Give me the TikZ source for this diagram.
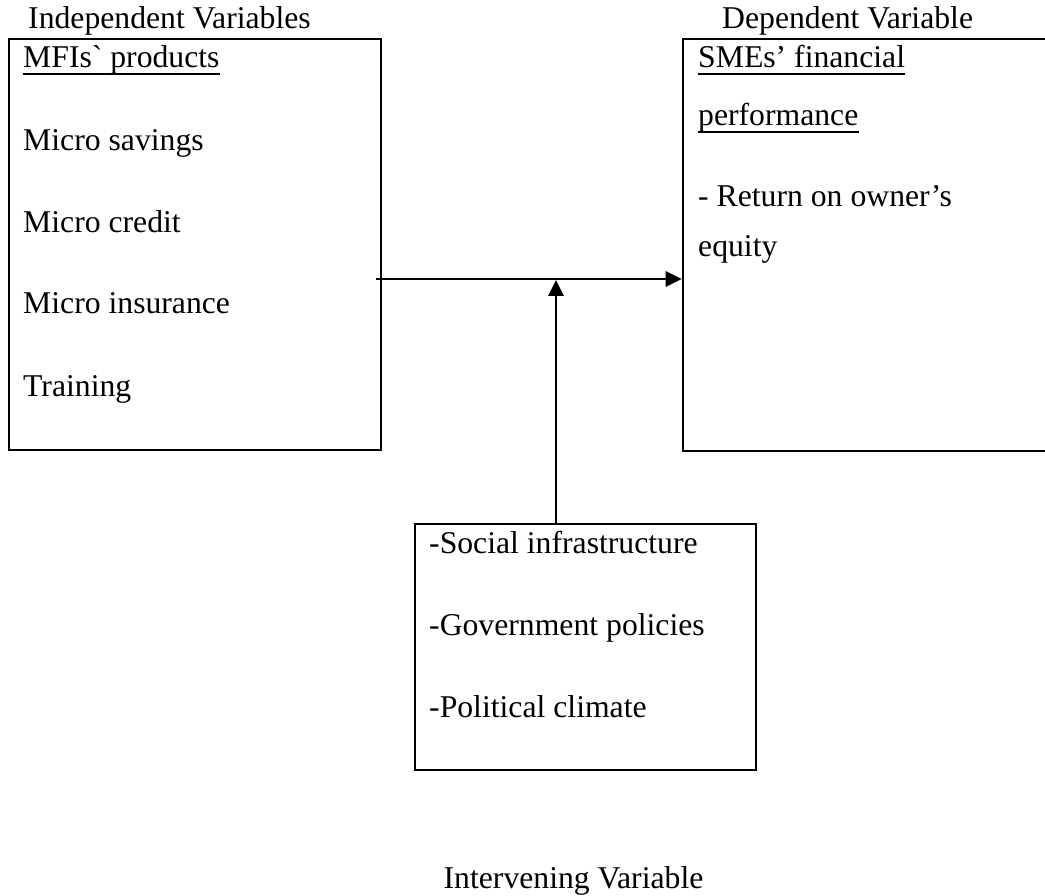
\documentclass[tikz,border=0pt]{standalone}
\usepackage{fontspec}
\setmainfont{Liberation Serif}[Ligatures=TeXOff]
\usetikzlibrary{arrows.meta}
\tikzset{
  boxframe/.style={draw, line width=2.6pt, rectangle, inner sep=0pt},
  txt/.style={anchor=base west, inner sep=0pt, font=\fontsize{31.7}{38}\selectfont},
  ctxt/.style={anchor=base, inner sep=0pt, font=\fontsize{31.7}{38}\selectfont},
  arr/.style={line width=2.8pt, -{Triangle[length=16pt,width=15pt]}},
  ul/.style={line width=1.8pt}
}
\begin{document}
\begin{tikzpicture}[x=1pt,y=-1pt]
\useasboundingbox (0,0) rectangle (1045,896);
\clip (0,0) rectangle (1045,896);
% boxes
\node[boxframe, minimum width=372pt, minimum height=411pt] (lbox) at (195,244.5) {};
\node[boxframe, minimum width=372pt, minimum height=412pt] (rbox) at (869,245) {};
\node[boxframe, minimum width=341pt, minimum height=246pt] (bbox) at (585.5,647) {};
% headings
\node[txt] (indep) at (28,29) {Independent Variables};
\node[txt] (dep) at (722,29) {Dependent Variable};
\node[ctxt] (interv) at (573.5,888) {Intervening Variable};
% left box texts
\node[txt] (mfi) at (23,68) {MFIs` products};
\draw[ul] ([yshift=-6pt]mfi.base west) -- ([yshift=-6pt]mfi.base east);
\node[txt] (sav) at (23,151) {Micro savings};
\node[txt] (cred) at (23,233) {Micro credit};
\node[txt] (ins) at (23,314) {Micro insurance};
\node[txt] (train) at (23,396) {Training};
% right box texts
\node[txt] (sme) at (698,68) {SMEs’ financial};
\draw[ul] ([yshift=-6pt]sme.base west) -- ([yshift=-6pt]sme.base east);
\node[txt] (perf) at (698,126) {performance};
\draw[ul] ([yshift=-6pt]perf.base west) -- ([yshift=-6pt]perf.base east);
\node[txt] (ret) at (698,207) {- Return on owner’s};
\node[txt] (eq) at (698,257) {equity};
% bottom box texts
\node[txt] (soc) at (429,553) {-Social infrastructure};
\node[txt] (gov) at (429,635) {-Government policies};
\node[txt] (pol) at (429,717) {-Political climate};
% connectors
\coordinate (hstart) at (376,279);
\coordinate (vtip) at (556,280);
\draw[arr] (hstart) -- (rbox.west |- hstart);
\draw[arr] (bbox.north -| vtip) -- (vtip);
\end{tikzpicture}
\end{document}
